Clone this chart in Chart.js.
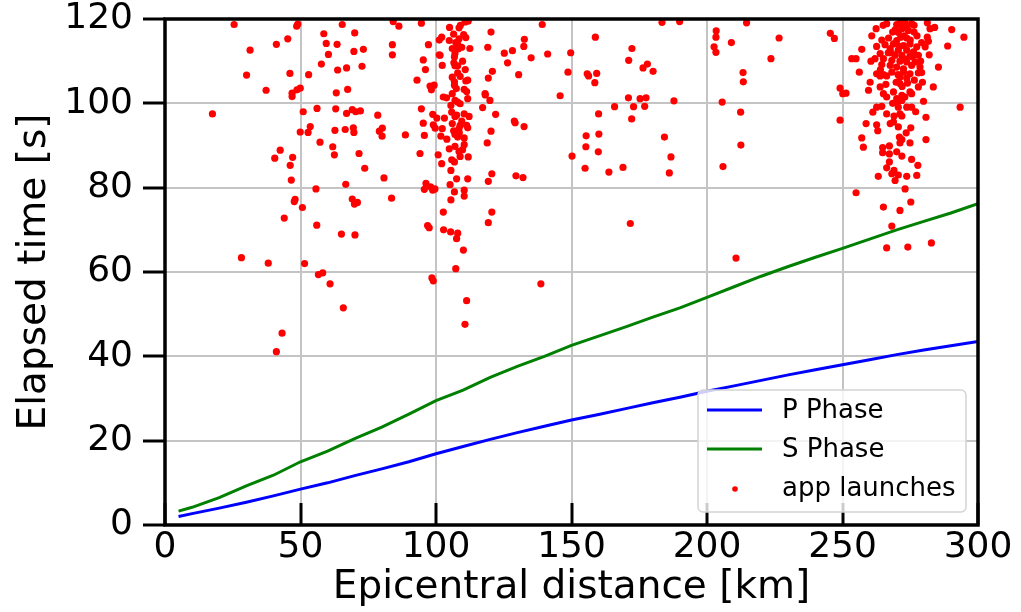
<!DOCTYPE html>
<html>
<head>
<meta charset="utf-8">
<script src="https://cdn.jsdelivr.net/npm/chart.js@4.4.1/dist/chart.umd.min.js"></script>
<style>
  html, body { margin: 0; padding: 0; background: #ffffff; }
  #wrap { width: 1021px; height: 612px; }
</style>
</head>
<body>
<div id="wrap"><canvas id="c" width="1021" height="612"></canvas></div>
<script>
// ---- Data ----
const phaseDist = [5, 10, 20, 30, 40, 50, 60, 70, 80, 90, 100, 110, 120, 130, 140, 150, 160, 170, 180, 190, 200, 210, 220, 230, 240, 250, 260, 270, 280, 290, 300];
const pTime = [2.0, 2.7, 4.0, 5.4, 6.9, 8.5, 10.0, 11.7, 13.3, 15.0, 16.9, 18.6, 20.3, 21.9, 23.4, 24.9, 26.2, 27.6, 29.0, 30.3, 31.7, 33.0, 34.3, 35.6, 36.8, 38.0, 39.2, 40.4, 41.5, 42.5, 43.5];
const sTime = [3.3, 4.2, 6.5, 9.3, 11.8, 15.0, 17.5, 20.5, 23.2, 26.3, 29.5, 32.0, 35.0, 37.6, 40.0, 42.6, 44.8, 47.0, 49.3, 51.5, 54.0, 56.5, 59.0, 61.3, 63.5, 65.6, 67.8, 70.0, 72.0, 74.0, 76.2];

const launchDist = [
 25.5,48.6,49.0,31.4,41.1,45.3,30.1,46.1,37.3,46.9,46.9,48.7,49.9,17.5,51.0,56.1,63.0,67.0,69.1,70.4,
 72.1,78.5,94.6,98.8,95.3,99.0,99.7,53.6,49.9,52.8,62.7,66.5,69.5,69.7,79.1,80.2,80.1,88.7,95.7,57.2,
 61.9,62.5,71.6,73.7,80.8,94.1,42.5,40.5,47.1,46.2,46.6,66.7,55.7,96.3,98.0,65.4,58.6,70.0,59.5,63.5,
 69.7,73.2,60.3,57.7,63.7,67.0,72.7,53.0,63.2,67.4,84.2,86.3,83.9,83.9,94.6,97.2,95.3,96.1,93.0,97.8,
 98.3,99.3,101.2,101.2,
 98.8,99.6,48.0,47.7,50.7,69.1,69.9,71.0,83.6,44.0,56.0,65.1,70.1,96.9,97.5,28.2,38.1,51.5,56.6,58.2,
 60.9,65.8,98.5,99.0,43.2,41.1,
 110.7,111.9,108.5,106.5,110.2,111.0,102.1,104.9,107.3,108.5,108.0,109.5,108.2,120.3,119.1,125.2,101.5,107.0,106.8,102.3,
 106.6,107.0,108.0,108.0,108.9,120.8,119.3,106.0,106.8,111.0,111.7,106.8,110.4,111.3,102.7,103.9,106.0,107.0,108.0,108.9,
 111.7,118.1,119.9,117.2,122.0,100.3,103.1,105.8,107.0,107.6,110.4,112.2,102.3,106.0,108.9,108.5,111.3,111.7,120.3,101.8,
 107.0,108.6,108.0,110.4,110.4,118.9,107.0,104.9,108.5,108.9,111.9,100.8,102.1,105.8,106.8,105.5,120.6,119.3,107.6,111.7,
 95.7,105.2,106.8,110.4,110.4,105.5,120.6,119.3,102.7,102.8,105.4,108.0,107.6,110.1,107.3,111.3,110.7,
 109.0,106.0,109.8,110.8,107.5,105.5,109.5,106.5,109.8,104.0,112.5,105.0,
 132.6,132.4,128.2,126.4,135.1,141.2,139.2,149.7,158.8,130.5,148.7,155.8,156.3,159.3,158.6,118.2,145.8,128.9,129.2,132.5,
 160.0,155.4,155.3,160.1,159.9,150.2,155.0,129.5,132.1,171.7,138.7,
 183.4,189.9,172.3,171.1,176.4,178.0,180.1,171.0,175.3,177.5,172.9,177.0,165.9,187.8,172.2,184.3,186.7,186.1,163.8,169.0,
 203.4,203.3,202.6,203.3,209.0,214.6,226.6,223.6,213.3,213.4,205.6,212.4,212.5,205.9,210.7,245.5,247.0,294.8,
 266.3,270.0,271.2,273.1,275.5,276.4,273.5,271.9,274.3,276.4,270.6,268.5,281.3,282.3,262.4,260.8,290.3,271.5,273.7,270.0,
 281.3,281.7,279.2,265.7,262.6,268.8,274.9,272.5,277.4,280.5,267.6,270.6,273.7,276.2,257.1,288.8,266.9,263.9,269.4,271.9,
 274.9,278.0,262.0,253.4,255.0,265.1,268.2,271.2,273.7,276.8,264.5,267.6,270.0,272.5,275.5,278.6,285.4,256.2,262.6,265.1,
 268.2,272.5,274.9,278.0,279.2,263.9,271.2,273.7,266.3,260.2,269.8,271.2,263.9,259.6,278.0,283.5,265.1,268.8,274.9,275.5,
 271.9,266.3,270.0,270.6,271.9,279.9,262.6,264.5,270.6,273.7,275.5,261.2,266.3,271.2,271.9,280.8,258.7,262.6,267.6,268.8,
 270.6,275.2,257.1,271.0,271.9,271.2,274.9,280.8,257.7,264.8,267.3,264.8,267.3,271.9,275.5,267.3,266.3,269.0,268.2,270.6,
 277.8,263.2,273.7,277.4,269.4,273.1,255.0,275.2,265.1,271.2,268.2,266.3,274.1,282.8,249.1,249.1,251.3,250.1,293.4,
 264.5,267.0,269.5,272.8,275.0,277.5,268.0,271.0,273.0,275.8,278.8,264.0,266.0,270.5,272.0,274.0,276.5,268.5,273.0,277.0,
 269.0,263.0,273.5,270.0,260.5,282.0,279.5,271.5,265.0,284.0
];
const launchTime = [
 118.7,118.3,118.8,112.6,114.0,115.3,106.7,107.1,103.1,102.4,101.6,103.2,103.6,97.5,98.0,98.8,98.7,97.6,98.5,98.0,
 98.2,97.2,98.7,97.4,95.3,94.9,94.1,94.5,93.2,93.1,93.6,93.8,94.2,93.1,93.4,94.1,92.2,92.5,92.4,90.8,
 89.7,87.8,88.1,84.6,82.3,88.1,88.9,87.0,87.2,85.3,81.8,80.8,79.7,81.0,80.2,118.7,116.5,116.7,114.2,114.0,
 112.3,112.8,111.6,109.3,107.9,108.4,108.8,106.8,102.5,103.3,119.4,118.3,113.9,111.5,119.0,113.9,110.3,108.0,105.5,104.1,
 103.2,104.3,115.0,111.5,
 79.4,79.7,77.2,76.7,75.3,77.3,76.1,76.5,77.5,72.8,71.1,69.0,68.8,71.0,70.5,63.4,62.1,62.0,59.4,59.8,
 57.2,51.5,58.6,57.9,45.5,41.1,
 119.3,119.5,117.9,116.4,116.3,115.6,115.7,114.9,114.4,115.3,114.0,113.3,112.9,116.9,113.3,111.9,111.4,111.8,111.0,109.0,
 109.6,108.9,108.9,107.2,106.4,107.6,106.0,106.2,105.1,105.3,105.5,104.3,103.3,102.8,101.5,101.3,102.3,100.7,100.3,99.9,
 101.1,102.3,100.7,99.0,97.4,96.5,96.5,97.9,96.9,97.2,97.5,96.9,94.0,95.2,94.8,94.0,94.8,94.2,93.4,92.2,
 92.6,93.0,92.0,91.8,90.2,90.6,89.8,89.2,88.6,87.4,87.3,87.8,85.7,86.6,86.1,84.1,83.3,81.5,82.1,82.1,
 79.6,80.7,79.0,79.4,78.0,77.1,74.2,71.7,74.2,70.0,69.5,69.2,67.9,65.2,60.8,53.2,47.6,
 118.5,113.0,110.0,108.0,103.5,99.5,95.8,93.5,89.0,91.5,113.0,118.0,
 115.2,113.5,112.5,109.6,110.8,111.7,118.7,112.0,115.7,106.8,107.4,107.0,106.5,107.1,104.9,102.0,101.8,95.8,95.4,94.5,
 97.5,92.3,89.7,92.7,88.5,87.5,84.6,82.8,82.4,71.5,57.2,
 119.2,119.4,113.0,110.2,108.4,109.3,107.6,101.3,101.1,101.3,99.2,99.3,99.2,100.6,96.3,92.0,87.3,83.5,83.7,84.8,
 117.2,115.7,113.4,112.1,114.4,119.1,115.5,110.6,107.3,105.1,100.3,97.9,90.1,85.0,63.3,116.6,115.4,115.7,
 118.9,118.7,118.9,119.1,118.9,118.5,118.1,117.7,117.3,116.9,116.8,116.9,119.1,117.7,117.7,116.0,117.5,115.7,115.5,114.9,
 115.7,114.7,114.4,113.9,113.5,114.1,114.1,113.7,113.4,113.4,113.0,112.6,112.6,112.2,112.8,113.6,112.0,111.8,111.4,111.4,
 111.2,111.4,110.6,110.6,110.6,110.6,110.2,110.0,109.8,109.8,109.2,109.0,108.6,108.2,109.0,108.6,108.6,107.4,107.0,106.8,
 107.4,107.4,107.0,107.2,107.3,106.5,106.2,106.0,106.5,105.0,105.0,104.7,103.9,103.1,103.9,103.9,102.3,102.7,102.7,102.3,
 101.9,101.5,101.1,100.5,100.7,100.5,99.1,99.3,99.1,99.1,99.1,97.9,97.5,97.5,97.0,96.7,95.2,94.9,95.2,95.6,
 94.4,94.2,91.8,92.0,91.4,90.6,90.6,91.4,89.6,89.5,89.9,88.3,88.0,87.5,86.7,86.1,84.7,84.1,83.3,83.0,
 85.3,82.7,82.7,82.9,81.7,79.7,78.8,76.6,75.4,74.6,70.9,65.7,65.9,66.9,96.0,103.6,102.4,102.3,99.1,
 115.0,115.5,117.5,116.0,115.0,116.0,112.0,113.5,110.5,111.0,110.0,108.0,104.5,106.8,104.0,104.8,105.5,100.0,101.5,98.0,
 97.0,93.5,93.0,88.5,110.0,111.5,105.0,119.5,118.5,118.0
];

const xTickValues = [0, 50, 100, 150, 200, 250, 300];
const yTickValues = [0, 20, 40, 60, 80, 100, 120];

// ---- Build datasets ----
const pData = phaseDist.map((d, i) => ({ x: d, y: pTime[i] }));
const sData = phaseDist.map((d, i) => ({ x: d, y: sTime[i] }));
const launchData = launchDist.map((d, i) => ({ x: d, y: launchTime[i] }));

const FONT = "'DejaVu Sans', 'Liberation Sans', sans-serif";

const framePlugin = {
  id: 'frame',
  afterDatasetsDraw(chart) {
    const { ctx, chartArea: a } = chart;
    ctx.save();
    ctx.strokeStyle = '#000000';
    ctx.lineWidth = 3.5;
    ctx.strokeRect(a.left, a.top, a.right - a.left, a.bottom - a.top);
    ctx.restore();
  }
};

const legendPlugin = {
  id: 'boxLegend',
  afterDraw(chart) {
    const { ctx, chartArea: a } = chart;
    const w = 268, h = 122;
    const x0 = a.right - 12 - w, y0 = a.bottom - 13 - h;
    ctx.save();
    ctx.beginPath();
    if (ctx.roundRect) ctx.roundRect(x0, y0, w, h, 5); else ctx.rect(x0, y0, w, h);
    ctx.fillStyle = 'rgba(255,255,255,0.8)';
    ctx.fill();
    ctx.strokeStyle = '#d4d4d4';
    ctx.lineWidth = 1.5;
    ctx.stroke();
    ctx.font = '26px ' + FONT;
    ctx.textBaseline = 'middle';
    ctx.textAlign = 'left';
    chart.data.datasets.forEach((ds, i) => {
      const cy = y0 + 20 + i * 39;
      if (ds.showLine) {
        ctx.strokeStyle = ds.borderColor;
        ctx.lineWidth = 3;
        ctx.beginPath();
        ctx.moveTo(x0 + 9, cy);
        ctx.lineTo(x0 + 64, cy);
        ctx.stroke();
      } else {
        ctx.fillStyle = ds.backgroundColor;
        ctx.beginPath();
        ctx.arc(x0 + 37, cy + 1, 2.8, 0, Math.PI * 2);
        ctx.fill();
      }
      ctx.fillStyle = '#000000';
      ctx.fillText(ds.label, x0 + 84, cy + 1);
    });
    ctx.restore();
  }
};

new Chart(document.getElementById('c'), {
  type: 'scatter',
  data: {
    datasets: [
      { label: 'P Phase', data: pData, showLine: true, borderColor: '#0000ff', backgroundColor: '#0000ff',
        borderWidth: 3, pointRadius: 0, pointHoverRadius: 0, tension: 0, clip: 0, order: 2 },
      { label: 'S Phase', data: sData, showLine: true, borderColor: '#008000', backgroundColor: '#008000',
        borderWidth: 3, pointRadius: 0, pointHoverRadius: 0, tension: 0, clip: 0, order: 1 },
      { label: 'app launches', data: launchData, showLine: false, backgroundColor: '#ff0000', borderColor: '#ff0000',
        borderWidth: 0, pointRadius: 3.6, pointHoverRadius: 3.6, clip: 0, order: 0 }
    ]
  },
  options: {
    responsive: false,
    animation: false,
    devicePixelRatio: 1,
    layout: { padding: { left: 0, top: 19, right: 43, bottom: 0 } },
    plugins: { legend: { display: false }, tooltip: { enabled: false } },
    scales: {
      x: {
        type: 'linear', min: 0, max: 300,
        afterBuildTicks(scale) { scale.ticks = xTickValues.map(v => ({ value: v })); },
        afterFit(scale) { scale.height = 87; scale.paddingLeft = 0; scale.paddingRight = 0; },
        ticks: { font: { family: FONT, size: 36 }, color: '#000000', padding: 23, maxRotation: 0, autoSkip: false },
        grid: { color: '#c4c4c4', lineWidth: 2, drawTicks: true, tickLength: -22, tickColor: '#000000', tickWidth: 3 },
        border: { display: false },
        title: { display: true, text: 'Epicentral distance [km]', color: '#000000',
                 font: { family: FONT, size: 39 }, padding: { top: 0, bottom: 1 } }
      },
      y: {
        type: 'linear', min: 0, max: 120,
        afterBuildTicks(scale) { scale.ticks = yTickValues.map(v => ({ value: v })); },
        afterFit(scale) { scale.width = 165; scale.paddingTop = 0; scale.paddingBottom = 0; },
        ticks: { font: { family: FONT, size: 36 }, color: '#000000', padding: 10, autoSkip: false },
        grid: { color: '#c4c4c4', lineWidth: 2, drawTicks: true, tickLength: 22, tickColor: '#000000', tickWidth: 3 },
        border: { display: false },
        title: { display: true, text: 'Elapsed time [s]', color: '#000000',
                 font: { family: FONT, size: 39 }, padding: { top: 11, bottom: 0 } }
      }
    }
  },
  plugins: [framePlugin, legendPlugin]
});
</script>
</body>
</html>
